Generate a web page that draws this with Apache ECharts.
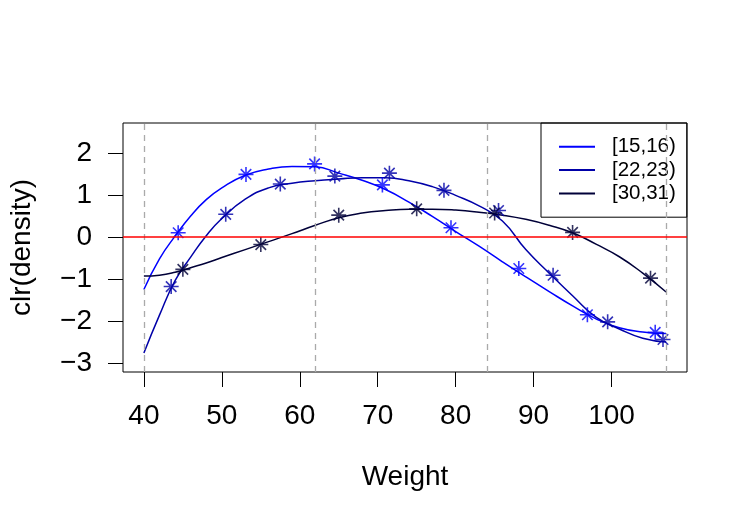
<!DOCTYPE html>
<html>
<head>
<meta charset="utf-8">
<script src="https://cdn.jsdelivr.net/npm/echarts@6/dist/echarts.min.js"></script>
<style>
  html, body { margin: 0; padding: 0; background: #fff; }
  #chart { width: 750px; height: 525px; }
</style>
</head>
<body>
<div id="chart"></div>
<script>
var names = ['[15,16)', '[22,23)', '[30,31)'];
var colors = ['#0000FF', '#0000A8', '#000038'];

// observed points (bin midpoints)
var s1PtX = [44.4, 53.1, 61.9, 70.6, 79.4, 88.1, 96.9, 105.6];
var s1PtY = [0.10, 1.49, 1.74, 1.24, 0.22, -0.75, -1.85, -2.27];
var s2PtX = [43.5, 50.5, 57.5, 64.5, 71.5, 78.5, 85.5, 92.5, 99.5, 106.6];
var s2PtY = [-1.18, 0.54, 1.26, 1.45, 1.52, 1.11, 0.63, -0.91, -2.02, -2.44];
var s3PtX = [45, 55, 65, 75, 85, 95, 105];
var s3PtY = [-0.77, -0.18, 0.52, 0.67, 0.57, 0.11, -0.98];

// fitted curves at these weights
var curveX = [40, 42, 44, 46, 48, 50, 53, 56, 59, 62, 65, 68, 71, 74, 77, 80, 83, 86, 89, 92, 95, 98, 101, 104, 107];
var s1CurveY = [-1.25, -0.52, 0.02, 0.50, 0.89, 1.17, 1.47, 1.62, 1.68, 1.67, 1.52, 1.35, 1.13, 0.83, 0.49, 0.13, -0.22, -0.59, -0.95, -1.30, -1.64, -1.95, -2.16, -2.26, -2.30];
var s2CurveY = [-2.76, -1.86, -1.04, -0.48, 0.03, 0.44, 0.90, 1.17, 1.28, 1.34, 1.38, 1.41, 1.41, 1.34, 1.20, 0.99, 0.74, 0.38, -0.30, -0.86, -1.40, -1.91, -2.19, -2.41, -2.50];
var s3CurveY = [-0.93, -0.91, -0.84, -0.73, -0.62, -0.49, -0.30, -0.11, 0.08, 0.28, 0.46, 0.57, 0.63, 0.66, 0.66, 0.64, 0.59, 0.52, 0.42, 0.28, 0.10, -0.17, -0.47, -0.86, -1.31];

var xTicks = [40, 50, 60, 70, 80, 90, 100];
var yTicks = [-3, -2, -1, 0, 1, 2];
var vLines = [40, 62, 84, 107];
var hLine = 0;

var xMin = 37.32, xMax = 109.68;
var yMin = -3.214, yMax = 2.714;

function pairs(xs, ys) {
  var out = [];
  for (var i = 0; i < xs.length; i++) out.push([xs[i], ys[i]]);
  return out;
}

var star = 'path://M5,0L5,10M0,5L10,5M1.5,1.5L8.5,8.5M1.5,8.5L8.5,1.5';
var font = '"Liberation Sans", Arial, Helvetica, sans-serif';

var curves = [s1CurveY, s2CurveY, s3CurveY];
var points = [[s1PtX, s1PtY], [s2PtX, s2PtY], [s3PtX, s3PtY]];

var series = [];
for (var k = 0; k < 3; k++) {
  series.push({
    name: names[k],
    type: 'line',
    smooth: 0.5,
    showSymbol: false,
    symbol: 'none',
    lineStyle: { color: colors[k], width: 1.5 },
    itemStyle: { color: colors[k] },
    data: pairs(curveX, curves[k]),
    z: 3
  });
  series.push({
    name: 'pts' + k,
    type: 'scatter',
    symbol: star,
    symbolSize: 15,
    itemStyle: { color: 'none', borderColor: colors[k], borderWidth: 1.6 },
    data: pairs(points[k][0], points[k][1]),
    z: 4
  });
}

// reference lines
series.push({
  type: 'line',
  data: [],
  markLine: {
    silent: true,
    symbol: 'none',
    label: { show: false },
    data: vLines.map(function (v) {
      return { xAxis: v, lineStyle: { color: '#AAAAAA', type: [6, 5], width: 1.3 } };
    }).concat([{ yAxis: hLine, lineStyle: { color: '#FF0000', type: 'solid', width: 1.6 } }])
  },
  z: 2
});

var myChart = echarts.init(document.getElementById('chart'));
var option = {
  backgroundColor: '#fff',
  animation: false,
  textStyle: { fontFamily: font },
  grid: {
    left: 123, right: 63, top: 123, bottom: 153,
    show: true, borderColor: '#000', borderWidth: 1, backgroundColor: 'transparent'
  },
  legend: {
    data: names,
    orient: 'vertical',
    left: 541, top: 123,
    padding: [12, 11, 12, 18],
    itemGap: 0,
    itemWidth: 36,
    itemHeight: 2,
    icon: 'rect',
    borderColor: '#000',
    borderWidth: 1,
    backgroundColor: 'transparent',
    textStyle: { fontSize: 20.5, color: '#000', fontFamily: font, lineHeight: 23.4, padding: [0, 0, 0, 12] }
  },
  xAxis: {
    type: 'value',
    min: xMin, max: xMax,
    name: 'Weight',
    nameLocation: 'middle',
    nameGap: 91,
    nameTextStyle: { fontSize: 28, color: '#000', fontFamily: font },
    splitLine: { show: false },
    axisLine: { show: false, onZero: false },
    axisTick: { show: true, length: 15, lineStyle: { color: '#000', width: 1 }, customValues: xTicks },
    axisLabel: { customValues: xTicks, fontSize: 28, color: '#000', margin: 30, fontFamily: font }
  },
  yAxis: {
    type: 'value',
    min: yMin, max: yMax,
    name: 'clr(density)',
    nameLocation: 'middle',
    nameGap: 87,
    nameTextStyle: { fontSize: 28, color: '#000', fontFamily: font },
    splitLine: { show: false },
    axisLine: { show: false, onZero: false },
    axisTick: { show: true, length: 15, lineStyle: { color: '#000', width: 1 }, customValues: yTicks },
    axisLabel: {
      customValues: yTicks, fontSize: 28, color: '#000', margin: 31, fontFamily: font,
      formatter: function (v) { return String(v).replace('-', '\u2212'); }
    }
  },
  series: series
};
myChart.setOption(option);
window.addEventListener('resize', function () {
  myChart.resize();
});
</script>
</body>
</html>
